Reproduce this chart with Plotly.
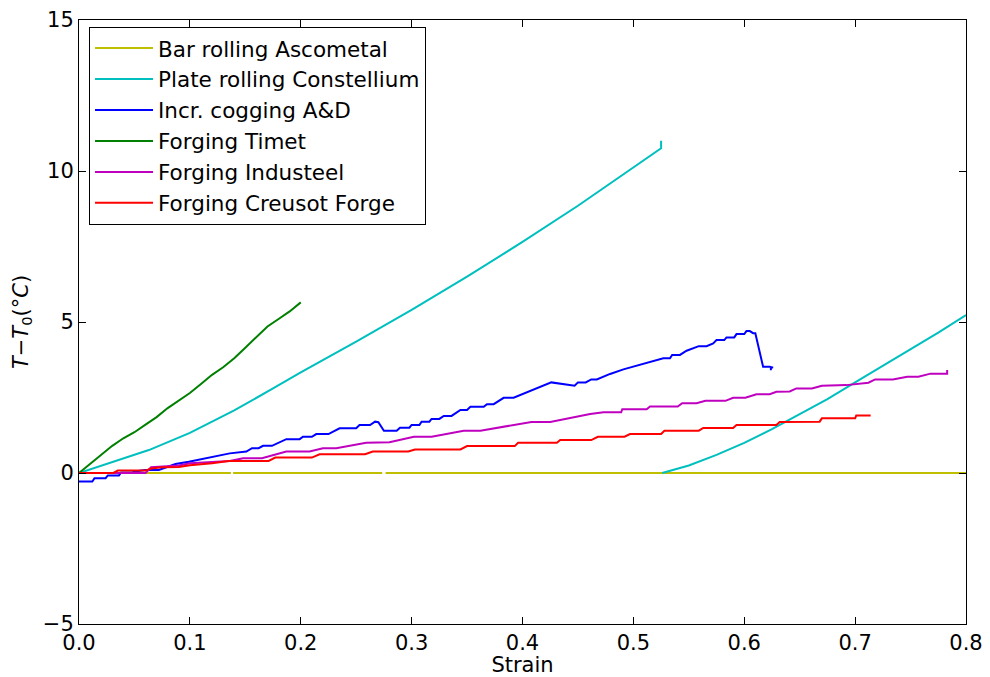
import plotly.graph_objects as go

# ---- data ----
bar_x = [0.0, 0.137, None, 0.139, 0.2735, None, 0.2765, 0.8]
bar_y = [0.0, 0.0, None, 0.0, 0.0, None, 0.0, 0.0]

plate_x = [0.0, 0.03, 0.063, 0.1, 0.14, 0.175, 0.2, 0.25, 0.3, 0.35, 0.4, 0.45, 0.5, 0.525, 0.525,
           None,
           0.526, 0.55, 0.575, 0.6, 0.625, 0.65, 0.675, 0.7, 0.725, 0.75, 0.775, 0.8]
plate_y = [0.0, 0.37, 0.76, 1.33, 2.07, 2.8, 3.33, 4.35, 5.4, 6.5, 7.65, 8.85, 10.1, 10.75, 11.0,
           None,
           0.0, 0.25, 0.6, 1.0, 1.45, 1.95, 2.45, 3.0, 3.55, 4.1, 4.65, 5.23]

cog_x = [0.0, 0.012, 0.014, 0.024, 0.026, 0.036, 0.038, 0.048, 0.05, 0.06, 0.072, 0.087, 0.099,
         0.114, 0.129, 0.136, 0.151, 0.156, 0.162, 0.166, 0.174, 0.187, 0.199, 0.202, 0.21, 0.214,
         0.225, 0.235, 0.25, 0.253, 0.2625, 0.267, 0.27, 0.275, 0.2865, 0.2895, 0.298, 0.3, 0.307,
         0.309, 0.316, 0.318, 0.325, 0.329, 0.336, 0.344, 0.35, 0.353, 0.365, 0.368, 0.374, 0.383,
         0.392, 0.426, 0.447, 0.45, 0.457, 0.462, 0.467, 0.479, 0.491, 0.527, 0.533, 0.535, 0.542,
         0.548, 0.559, 0.566, 0.572, 0.575, 0.582, 0.584, 0.591, 0.593, 0.6, 0.602, 0.605, 0.608,
         0.61, 0.6157, 0.617, 0.623, 0.626, 0.624, 0.624]
cog_y = [-0.28, -0.28, -0.17, -0.17, -0.08, -0.08, 0.02, 0.02, 0.05, 0.1, 0.1, 0.3, 0.37,
         0.49, 0.6, 0.65, 0.71, 0.82, 0.82, 0.9, 0.9, 1.12, 1.12, 1.2, 1.2, 1.29,
         1.29, 1.48, 1.48, 1.59, 1.59, 1.7, 1.68, 1.4, 1.4, 1.5, 1.5, 1.59, 1.59,
         1.7, 1.7, 1.79, 1.79, 1.89, 1.89, 2.09, 2.09, 2.19, 2.19, 2.28, 2.28, 2.49,
         2.49, 3.0, 2.89, 3.0, 3.0, 3.1, 3.1, 3.28, 3.43, 3.8, 3.8, 3.91, 3.91,
         4.05, 4.2, 4.2, 4.29, 4.4, 4.4, 4.49, 4.49, 4.6, 4.6, 4.7, 4.7, 4.63,
         4.63, 3.69, 3.52, 3.52, 3.49, 3.49, 3.4]

timet_x = [0.0, 0.01, 0.02, 0.03, 0.04, 0.05, 0.06, 0.07, 0.08, 0.09, 0.1, 0.11, 0.12, 0.13,
           0.14, 0.15, 0.16, 0.17, 0.18, 0.19, 0.2]
timet_y = [0.0, 0.3, 0.6, 0.9, 1.15, 1.35, 1.6, 1.85, 2.15, 2.4, 2.65, 2.95, 3.25, 3.5,
           3.8, 4.15, 4.5, 4.85, 5.1, 5.35, 5.65]

indu_x = [0.0, 0.06, 0.065, 0.09, 0.1, 0.13, 0.136, 0.148, 0.165, 0.187, 0.208, 0.22, 0.232,
          0.259, 0.271, 0.28, 0.302, 0.318, 0.347, 0.362, 0.408, 0.425, 0.461, 0.473, 0.489,
          0.49, 0.512, 0.515, 0.54, 0.544, 0.557, 0.565, 0.583, 0.59, 0.601, 0.611, 0.623,
          0.629, 0.641, 0.647, 0.661, 0.67, 0.692, 0.712, 0.718, 0.734, 0.747, 0.757, 0.768,
          0.783, 0.783]
indu_y = [0.0, 0.0, 0.19, 0.25, 0.32, 0.38, 0.4, 0.49, 0.49, 0.71, 0.71, 0.82, 0.82,
          1.0, 1.0, 1.02, 1.2, 1.2, 1.4, 1.4, 1.69, 1.69, 1.95, 2.01, 2.01,
          2.11, 2.11, 2.2, 2.2, 2.31, 2.31, 2.39, 2.39, 2.49, 2.49, 2.61, 2.61,
          2.69, 2.7, 2.8, 2.8, 2.89, 2.91, 2.99, 3.1, 3.1, 3.19, 3.19, 3.29,
          3.29, 3.41]

creu_x = [0.0, 0.031, 0.035, 0.06, 0.065, 0.075, 0.09, 0.1, 0.12, 0.135, 0.171, 0.177, 0.21,
          0.217, 0.258, 0.265, 0.297, 0.303, 0.344, 0.35, 0.393, 0.396, 0.431, 0.434, 0.462,
          0.468, 0.492, 0.497, 0.525, 0.528, 0.559, 0.563, 0.59, 0.593, 0.629, 0.632, 0.668,
          0.67, 0.7, 0.701, 0.714]
creu_y = [0.0, 0.0, 0.08, 0.08, 0.15, 0.19, 0.2, 0.26, 0.32, 0.4, 0.4, 0.51, 0.51,
          0.62, 0.62, 0.71, 0.71, 0.78, 0.78, 0.89, 0.89, 1.0, 1.0, 1.09, 1.09,
          1.2, 1.2, 1.29, 1.29, 1.4, 1.4, 1.49, 1.49, 1.59, 1.59, 1.69, 1.7,
          1.81, 1.81, 1.9, 1.9]

series = [
    ("Bar rolling Ascometal", bar_x, bar_y, "#bfbf00"),
    ("Plate rolling Constellium", plate_x, plate_y, "#00bfbf"),
    ("Incr. cogging A&amp;D", cog_x, cog_y, "#0000ff"),
    ("Forging Timet", timet_x, timet_y, "#008000"),
    ("Forging Industeel", indu_x, indu_y, "#bf00bf"),
    ("Forging Creusot Forge", creu_x, creu_y, "#ff0000"),
]

x_ticks = [0.0, 0.1, 0.2, 0.3, 0.4, 0.5, 0.6, 0.7, 0.8]
y_ticks = [-5, 0, 5, 10, 15]

fig = go.Figure()
for name, xs, ys, col in series:
    fig.add_trace(go.Scatter(x=xs, y=ys, mode="lines", name=name,
                             line=dict(color=col, width=2), connectgaps=False))

axis_common = dict(showline=True, linecolor="black", linewidth=1, mirror="allticks",
                   ticks="inside", ticklen=7, tickcolor="black", showgrid=False,
                   zeroline=False, automargin=False,
                   tickfont=dict(size=21, color="black"))

fig.update_layout(
    template="none",
    width=990, height=677,
    margin=dict(l=79, r=24, t=20, b=53, pad=0, autoexpand=False),
    paper_bgcolor="white", plot_bgcolor="white",
    font=dict(family="DejaVu Sans", color="black"),
    xaxis=dict(range=[0, 0.8], tickvals=x_ticks,
               ticktext=[f"{v:.1f}" for v in x_ticks],
               title=dict(text="Strain", font=dict(size=21), standoff=2),
               **axis_common),
    yaxis=dict(range=[-5, 15], tickvals=y_ticks,
               ticktext=[("\u2212" + str(-v)) if v < 0 else str(v) for v in y_ticks],
               title=dict(text="<i>T</i>\u2212<i>T</i><sub>0</sub>(°<i>C</i>)",
                          font=dict(size=21), standoff=8),
               **axis_common),
    legend=dict(x=0.0113, y=0.989, xanchor="left", yanchor="top",
                bgcolor="white", bordercolor="black", borderwidth=1,
                font=dict(size=21.5, color="black"), tracegroupgap=0,
                itemwidth=58),
    showlegend=True,
)

fig.write_html("out.html")
